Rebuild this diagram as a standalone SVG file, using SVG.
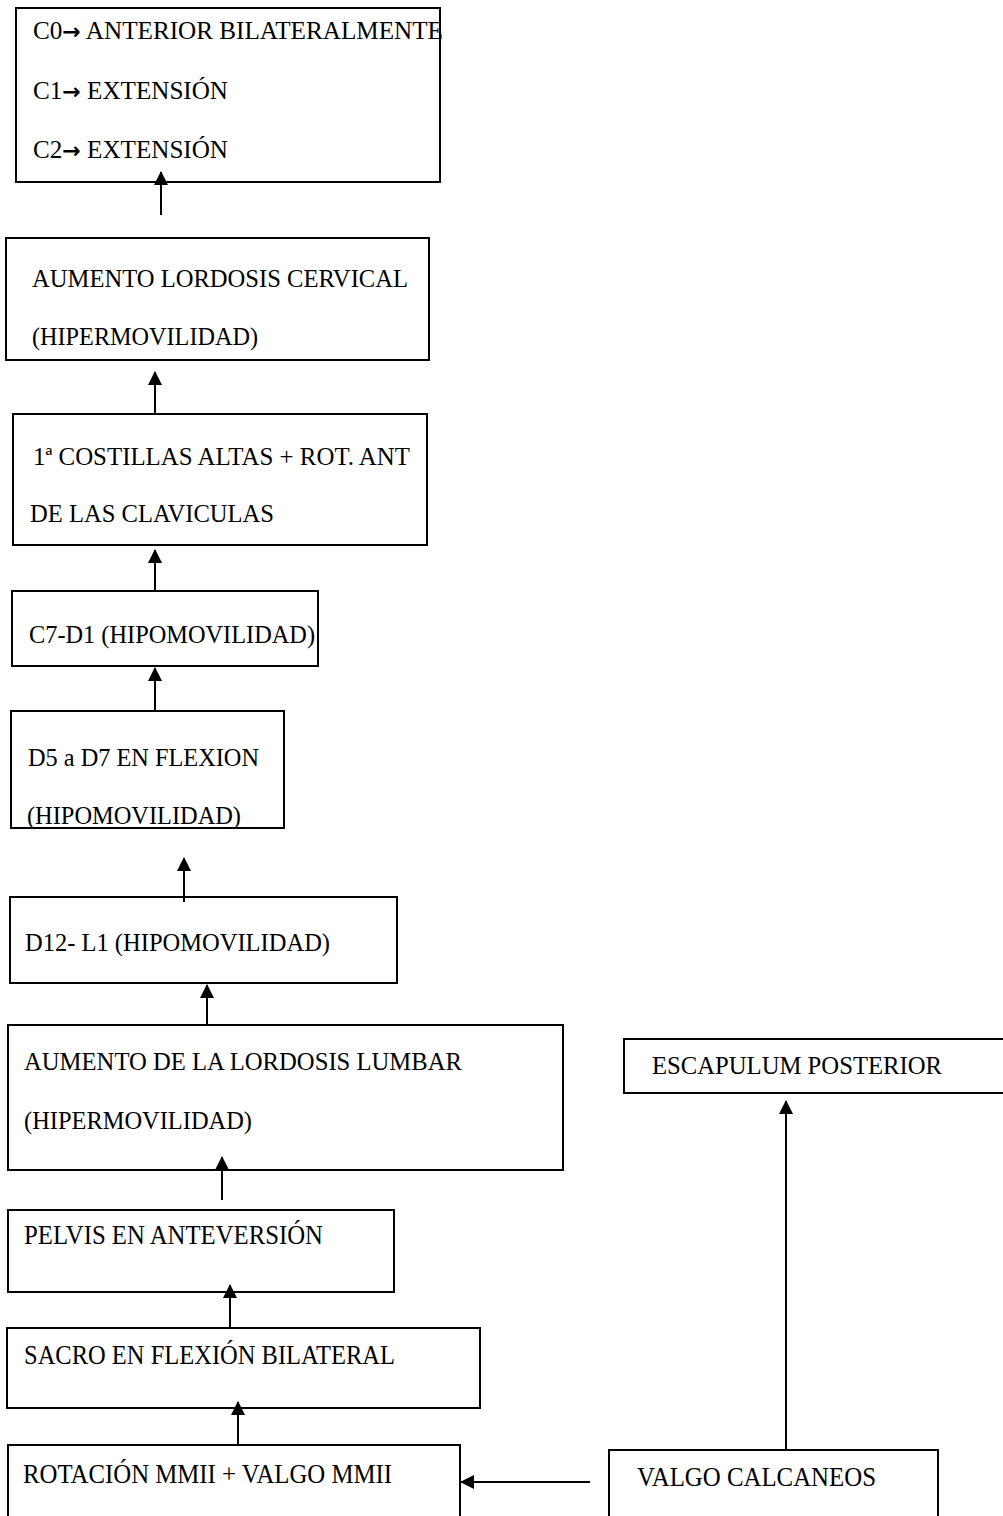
<svg xmlns="http://www.w3.org/2000/svg" width="1003" height="1516" viewBox="0 0 1003 1516">
<style>
rect{fill:#fff;stroke:#000;stroke-width:2}
text{font-family:"Liberation Serif","Times New Roman",serif;font-size:25px;fill:#000}
.c{font-size:27px}
.ar{font-family:"DejaVu Sans",sans-serif;font-weight:bold;font-size:22px}
line{stroke:#000;stroke-width:2}
</style>
<defs>
<marker id="ah" markerUnits="userSpaceOnUse" markerWidth="14" markerHeight="16" viewBox="0 0 14 16" refX="13" refY="7" orient="auto">
<path d="M0,0 L14,7 L0,14 Z" fill="#000"/>
</marker>
</defs>
<rect width="1003" height="1516" style="fill:#fff;stroke:none"/>
<g id="n1"><rect x="16" y="8" width="424" height="174"/>
<text x="33" y="39" textLength="410" lengthAdjust="spacingAndGlyphs">C0<tspan class="ar">→</tspan> ANTERIOR BILATERALMENTE</text>
<text x="33" y="99" textLength="195" lengthAdjust="spacingAndGlyphs">C1<tspan class="ar">→</tspan> EXTENSIÓN</text>
<text x="33" y="158" textLength="195" lengthAdjust="spacingAndGlyphs">C2<tspan class="ar">→</tspan> EXTENSIÓN</text></g>
<g id="n2"><rect x="6" y="238" width="423" height="122"/>
<text x="32" y="287" textLength="376" lengthAdjust="spacingAndGlyphs">AUMENTO LORDOSIS CERVICAL</text>
<text x="32" y="345" textLength="226" lengthAdjust="spacingAndGlyphs">(HIPERMOVILIDAD)</text></g>
<g id="n3"><rect x="13" y="414" width="414" height="131"/>
<text x="33" y="465" textLength="377" lengthAdjust="spacingAndGlyphs">1ª COSTILLAS ALTAS + ROT. ANT</text>
<text x="30" y="522" textLength="244" lengthAdjust="spacingAndGlyphs">DE LAS CLAVICULAS</text></g>
<g id="n4"><rect x="12" y="591" width="306" height="75"/>
<text x="29" y="643" textLength="286" lengthAdjust="spacingAndGlyphs">C7-D1 (HIPOMOVILIDAD)</text></g>
<g id="n5"><rect x="11" y="711" width="273" height="117"/>
<text x="28" y="766" textLength="231" lengthAdjust="spacingAndGlyphs">D5 a D7 EN FLEXION</text>
<text x="27" y="824" textLength="214" lengthAdjust="spacingAndGlyphs">(HIPOMOVILIDAD)</text></g>
<g id="n6"><rect x="10" y="897" width="387" height="86"/>
<text x="25" y="951" textLength="305" lengthAdjust="spacingAndGlyphs">D12- L1 (HIPOMOVILIDAD)</text></g>
<g id="n7"><rect x="8" y="1025" width="555" height="145"/>
<text x="24" y="1070" textLength="438" lengthAdjust="spacingAndGlyphs">AUMENTO DE LA LORDOSIS LUMBAR</text>
<text x="24" y="1129" textLength="228" lengthAdjust="spacingAndGlyphs">(HIPERMOVILIDAD)</text></g>
<g id="n8"><rect x="8" y="1210" width="386" height="82"/>
<text class="c" x="24" y="1244" textLength="299" lengthAdjust="spacingAndGlyphs">PELVIS EN ANTEVERSIÓN</text></g>
<g id="n9"><rect x="7" y="1328" width="473" height="80"/>
<text class="c" x="24" y="1364" textLength="371" lengthAdjust="spacingAndGlyphs">SACRO EN FLEXIÓN BILATERAL</text></g>
<g id="n10"><rect x="8" y="1445" width="452" height="80"/>
<text class="c" x="23" y="1483" textLength="369" lengthAdjust="spacingAndGlyphs">ROTACIÓN MMII + VALGO MMII</text></g>
<g id="n11"><rect x="609" y="1450" width="329" height="75"/>
<text class="c" x="637" y="1486" textLength="239" lengthAdjust="spacingAndGlyphs">VALGO CALCANEOS</text></g>
<g id="n12"><rect x="624" y="1039" width="390" height="54"/>
<text x="652" y="1074" textLength="290" lengthAdjust="spacingAndGlyphs">ESCAPULUM POSTERIOR</text></g>
<g id="connectors">
<line x1="161" y1="215" x2="161" y2="172" marker-end="url(#ah)"/>
<line x1="155" y1="414" x2="155" y2="372" marker-end="url(#ah)"/>
<line x1="155" y1="591" x2="155" y2="550" marker-end="url(#ah)"/>
<line x1="155" y1="711" x2="155" y2="668" marker-end="url(#ah)"/>
<line x1="184" y1="902" x2="184" y2="858" marker-end="url(#ah)"/>
<line x1="207" y1="1026" x2="207" y2="985" marker-end="url(#ah)"/>
<line x1="222" y1="1200" x2="222" y2="1157" marker-end="url(#ah)"/>
<line x1="230" y1="1328" x2="230" y2="1285" marker-end="url(#ah)"/>
<line x1="238" y1="1445" x2="238" y2="1402" marker-end="url(#ah)"/>
<line x1="590" y1="1482" x2="461" y2="1482" marker-end="url(#ah)"/>
<line x1="786" y1="1450" x2="786" y2="1101" marker-end="url(#ah)"/>
</g>
</svg>
